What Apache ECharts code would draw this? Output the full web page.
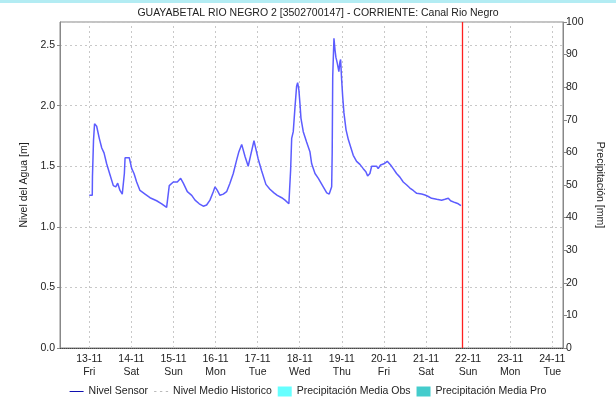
<!DOCTYPE html>
<html>
<head>
<meta charset="utf-8">
<script src="https://cdn.jsdelivr.net/npm/echarts@6/dist/echarts.min.js"></script>
<style>html,body{margin:0;padding:0;background:#fff}#c{width:616px;height:404px}</style>
</head>
<body>
<div id="c"></div>
<script>
// Hours after 13-11 00:00 and water level [m]
var sensorHours = [0,1.7,1.8,2.4,3.0,4.2,5.7,7.1,8.4,9.9,11.8,13.7,15.1,16.2,17.5,18.8,20.0,20.4,21.3,22.8,24.2,25.5,27.0,28.9,31.8,34.6,38.4,41.3,44.1,44.7,45.6,47.9,50.2,52.1,53.6,55.9,58.4,60.3,62.7,65.0,66.9,68.8,70.7,71.7,73.0,74.5,76.4,78.3,80.2,82.1,84.0,85.3,86.9,88.8,90.6,92.0,93.9,96.3,98.3,100.7,103.0,105.3,107.2,109.7,111.6,113.8,114.8,115.4,116.3,117.3,118.2,118.8,119.5,120.1,120.7,122.0,123.9,125.8,126.8,128.7,130.6,133.4,135.4,136.8,137.8,138.2,138.5,138.8,139.5,140.1,140.6,141.4,142.3,142.9,143.3,143.9,144.5,145.2,146.4,147.7,149.2,150.5,152.4,154.3,156.2,157.7,158.7,160.0,161.0,162.3,163.8,164.7,166.1,168.0,169.9,171.8,173.3,175.2,177.1,179.0,181.0,182.8,184.7,186.7,189.5,191.4,193.3,195.2,198.1,200.9,202.8,204.7,206.0,208.5,210.4,211.9];
var sensorLevel = [1.26,1.26,1.41,1.71,1.85,1.83,1.73,1.65,1.61,1.52,1.43,1.34,1.33,1.36,1.30,1.27,1.44,1.57,1.57,1.57,1.48,1.44,1.37,1.30,1.27,1.24,1.215,1.19,1.16,1.15,1.34,1.37,1.37,1.40,1.36,1.29,1.26,1.22,1.19,1.17,1.18,1.22,1.29,1.33,1.30,1.26,1.27,1.29,1.36,1.44,1.55,1.62,1.68,1.58,1.50,1.59,1.71,1.56,1.46,1.35,1.31,1.28,1.26,1.24,1.22,1.19,1.47,1.73,1.785,1.99,2.16,2.19,2.13,2.02,1.895,1.785,1.70,1.62,1.52,1.44,1.40,1.33,1.28,1.27,1.276,1.33,1.61,2.24,2.555,2.46,2.40,2.35,2.28,2.36,2.38,2.21,2.07,1.94,1.80,1.72,1.65,1.59,1.54,1.515,1.48,1.455,1.42,1.44,1.50,1.50,1.50,1.48,1.51,1.52,1.54,1.51,1.48,1.44,1.41,1.37,1.345,1.32,1.30,1.276,1.27,1.262,1.25,1.235,1.227,1.22,1.227,1.235,1.215,1.20,1.19,1.175];
var historicLevel = [];
var precipObs = [];
var precipPro = [];
// Day ticks: hours after 13-11 00:00 and their labels
var dayHours = [0,24,48,72,96,120,144,168,192,216,240,264];
var dayLabels = ['13-11\nFri','14-11\nSat','15-11\nSun','16-11\nMon','17-11\nTue','18-11\nWed','19-11\nThu','20-11\nFri','21-11\nSat','22-11\nSun','23-11\nMon','24-11\nTue'];
var nowHour = 212.5;
var axisStartHour = -16.7;
var axisEndHour = 270.1;

var sensorData = sensorHours.map(function(h, i){ return [h, sensorLevel[i]]; });
var gridStyle = { color: '#c8c8c8', type: [2, 3], width: 1 };
var markLines = dayHours.map(function(h){ return { xAxis: h, lineStyle: gridStyle }; });
markLines.push({ xAxis: nowHour, lineStyle: { color: '#ff2020', type: 'solid', width: 1.3 } });

var chart = echarts.init(document.getElementById('c'));
var font = 'Liberation Sans, Arial, sans-serif';
chart.setOption({
  animation: false,
  textStyle: { fontFamily: font },
  title: {
    text: 'GUAYABETAL RIO NEGRO 2 [3502700147] - CORRIENTE: Canal Rio Negro',
    left: 313, top: 3, textAlign: 'center',
    textStyle: { fontSize: 10.5, fontWeight: 'normal', color: '#222', fontFamily: font }
  },
  graphic: [{ type: 'rect', shape: { x: 0, y: 0, width: 616, height: 3 }, style: { fill: '#b3ecf3' } }],
  grid: { left: 60, right: 53, top: 22, bottom: 56, show: true, borderColor: '#888', borderWidth: 1 },
  legend: {
    bottom: 2, left: 'center', itemGap: 6, itemWidth: 14, itemHeight: 10,
    textStyle: { fontSize: 10.5, color: '#222', fontFamily: font },
    data: [
      { name: 'Nivel Sensor', icon: 'path://M0,5L14,5L14,6L0,6Z', itemStyle: { color: '#1010b0' } },
      { name: 'Nivel Medio Historico', icon: 'path://M0,5L2,5L2,6L0,6ZM5,5L7,5L7,6L5,6ZM10,5L12,5L12,6L10,6Z', itemStyle: { color: '#bbb' } },
      { name: 'Precipitación Media Obs', icon: 'rect', itemWidth: 6, itemStyle: { color: '#66ffff' } },
      { name: 'Precipitación Media Pro', icon: 'rect', itemWidth: 6, itemStyle: { color: '#44cccc' } }
    ]
  },
  xAxis: {
    type: 'value', min: axisStartHour, max: axisEndHour,
    axisLine: { show: true, onZero: false, lineStyle: { color: '#444', type: 'dotted', width: 1 } },
    axisTick: { show: false },
    splitLine: { show: false },
    axisLabel: {
      customValues: dayHours, margin: 5,
      fontSize: 10.5, color: '#222', lineHeight: 13, hideOverlap: false,
      formatter: function(v){ var i = dayHours.indexOf(v); return i >= 0 ? dayLabels[i] : ''; }
    }
  },
  yAxis: [{
    type: 'value', min: 0, max: 2.69, interval: 0.5, position: 'left',
    name: 'Nivel del Agua [m]', nameLocation: 'middle', nameGap: 29, nameRotate: 90,
    nameTextStyle: { fontSize: 10.5, color: '#222' },
    axisLine: { show: true, onZero: false, lineStyle: { color: '#888' } },
    axisTick: { show: true, length: 3, lineStyle: { color: '#888' } },
    axisLabel: { showMaxLabel: false, fontSize: 10.5, color: '#222', margin: 5, formatter: function(v){ return v.toFixed(1); } },
    splitLine: { show: true, lineStyle: gridStyle }
  }, {
    type: 'value', min: 0, max: 100, interval: 10, position: 'right',
    name: 'Precipitación [mm]', nameLocation: 'middle', nameGap: 27, nameRotate: -90,
    nameTextStyle: { fontSize: 10.5, color: '#222' },
    axisLine: { show: true, onZero: false, lineStyle: { color: '#888' } },
    axisTick: { show: true, length: 4, lineStyle: { color: '#888' } },
    axisLabel: { fontSize: 10.5, color: '#222', margin: 3 },
    splitLine: { show: false }
  }],
  series: [{
    name: 'Nivel Medio Historico', type: 'line', data: historicLevel, yAxisIndex: 0,
    showSymbol: false, lineStyle: { color: '#bbb', type: 'dotted' }, itemStyle: { color: '#bbb' }
  }, {
    name: 'Precipitación Media Obs', type: 'bar', data: precipObs, yAxisIndex: 1, itemStyle: { color: '#66ffff' }
  }, {
    name: 'Precipitación Media Pro', type: 'bar', data: precipPro, yAxisIndex: 1, itemStyle: { color: '#44cccc' }
  }, {
    name: 'Nivel Sensor', type: 'line', data: sensorData, yAxisIndex: 0,
    showSymbol: false, symbol: 'none',
    lineStyle: { color: '#5c5cff', width: 1.5 }, itemStyle: { color: '#1010b0' },
    markLine: {
      silent: true, symbol: 'none', label: { show: false }, z: 1,
      data: markLines
    }
  }]
});
</script>
</body>
</html>
